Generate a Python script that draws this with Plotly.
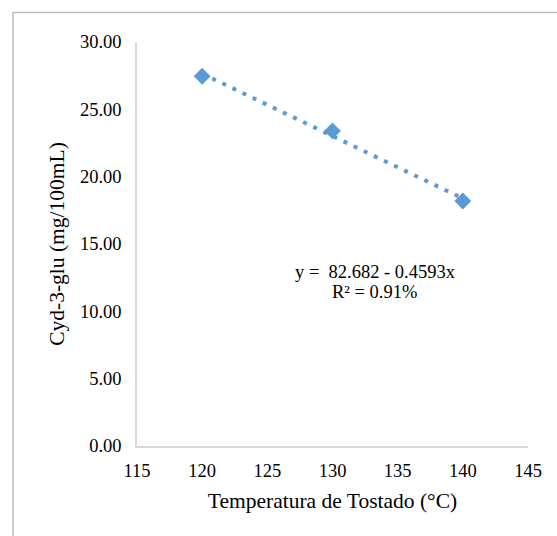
import numpy as np
import plotly.graph_objects as go

temperatures = [120, 130, 140]
cyd3glu = [27.46, 23.40, 18.19]
x_ticks = [115, 120, 125, 130, 135, 140, 145]
y_ticks = [0, 5, 10, 15, 20, 25, 30]
equation_line = "y =  82.682 - 0.4593x"
r2_line = "R² = 0.91%"

slope, intercept = np.polyfit(temperatures, cyd3glu, 1)
trend_x = [min(temperatures), max(temperatures)]
trend_y = [intercept + slope * t for t in trend_x]

blue = "#5B9BD5"
font = "Liberation Serif, Times New Roman, serif"

fig = go.Figure()
fig.add_trace(go.Scatter(x=trend_x, y=trend_y, mode="lines",
                         line=dict(color=blue, width=4, dash="4px,7.2px"),
                         hoverinfo="skip", showlegend=False))
fig.add_trace(go.Scatter(x=temperatures, y=cyd3glu, mode="markers",
                         marker=dict(symbol="diamond", size=13, color=blue),
                         showlegend=False))

fig.update_layout(
    width=557, height=536,
    margin=dict(l=136.7, r=29.3, t=42.3, b=90),
    paper_bgcolor="white", plot_bgcolor="white",
    font=dict(family=font, size=18.5, color="#000000"),
    xaxis=dict(range=[115, 145], tickvals=x_ticks, ticktext=[str(v) for v in x_ticks],
               showgrid=False, zeroline=False, showline=True, linecolor="#D9D9D9",
               linewidth=1.5, ticks="outside", ticklen=7, tickcolor="rgba(0,0,0,0)",
               title=dict(text="Temperatura de Tostado (°C)", font=dict(size=21.5), standoff=13)),
    yaxis=dict(range=[0, 30], tickvals=y_ticks, ticktext=[f"{v:.2f}" for v in y_ticks],
               showgrid=False, zeroline=False, showline=True, linecolor="#D9D9D9",
               linewidth=1.5, ticks="outside", ticklen=10, tickcolor="rgba(0,0,0,0)",
               title=dict(text="Cyd-3-glu (mg/100mL)", font=dict(size=21.5), standoff=9)),
    annotations=[
        dict(x=133.3, y=12.95, xref="x", yref="y", text=equation_line,
             showarrow=False, font=dict(size=18.5)),
        dict(x=133.2, y=11.42, xref="x", yref="y", text=r2_line,
             showarrow=False, font=dict(size=18.5)),
    ],
    shapes=[dict(type="rect", xref="paper", yref="paper",
                 x0=-0.317, y0=-0.4, x1=1.3, y1=1.0733,
                 line=dict(color="#BFBFBF", width=1.5), layer="below")],
)

fig.write_html("out.html")
